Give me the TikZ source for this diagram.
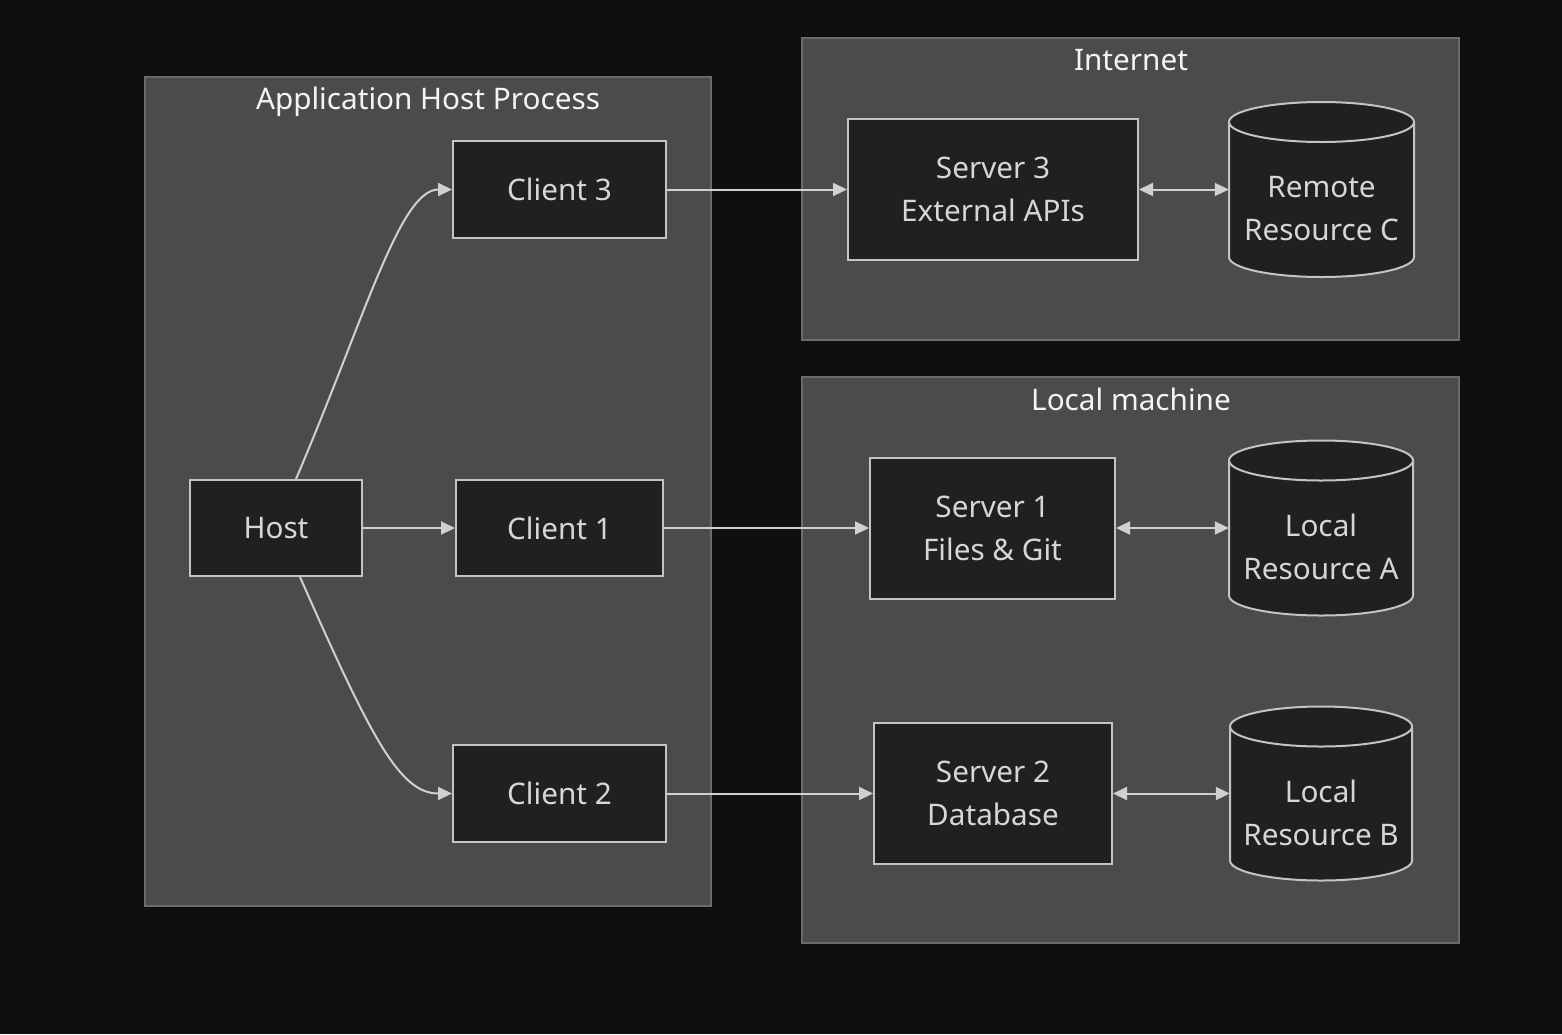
\documentclass[tikz,border=0pt]{standalone}
\usepackage{fontspec}
\setmainfont{Noto Sans}
\usetikzlibrary{arrows.meta,calc}
\definecolor{bgc}{HTML}{0E0F11}
\definecolor{clfill}{HTML}{4A4B4A}
\definecolor{clline}{HTML}{6A6B6A}
\definecolor{ndfill}{HTML}{1F2020}
\definecolor{ndline}{HTML}{C4C4C4}
\definecolor{ndtext}{HTML}{D6D6D6}
\definecolor{ttl}{HTML}{F4F4F4}
\definecolor{edge}{HTML}{D0D0D0}
\begin{document}
\begin{tikzpicture}[x=1pt,y=-1pt,
  cluster/.style={draw=clline,fill=clfill,line width=1.5pt,minimum width=#1},
  title/.style={text=ttl,font=\fontsize{29.7}{34}\selectfont,inner sep=0pt},
  box/.style={draw=ndline,fill=ndfill,line width=2pt,text=ndtext,align=center,
    font=\fontsize{29.7}{43}\selectfont,inner sep=0pt},
  cylbox/.style={draw=none,inner sep=0pt},
  cylshape/.style={draw=ndline,fill=ndfill,line width=2pt},
  cyltext/.style={text=ndtext,align=center,font=\fontsize{29.7}{43}\selectfont,inner sep=0pt},
  arr/.style={draw=edge,line width=2pt,-{Triangle[length=14pt,width=13pt]}},
  barr/.style={draw=edge,line width=2pt,{Triangle[length=14pt,width=13pt]}-{Triangle[length=14pt,width=13pt]}}
]
\useasboundingbox (0,0) rectangle (1562,1034);
\fill[bgc] (0,0) rectangle (1562,1034);

% clusters
\node[cluster=566pt,minimum height=829pt] (app) at (428,491.5) {};
\node[cluster=657pt,minimum height=302pt] (inet) at (1130.5,189) {};
\node[cluster=657pt,minimum height=566pt] (local) at (1130.5,660) {};
\node[title] (tapp) at (428,101.5) {Application Host Process};
\node[title] (tinet) at (1131,60.5) {Internet};
\node[title] (tlocal) at (1131,399.5) {Local machine};

% nodes
\node[box,minimum width=172pt,minimum height=96pt] (host) at (276,528) {Host};
\node[box,minimum width=213pt,minimum height=97pt] (c3) at (559.5,189.5) {Client 3};
\node[box,minimum width=207pt,minimum height=96pt] (c1) at (559.5,528) {Client 1};
\node[box,minimum width=213pt,minimum height=97pt] (c2) at (559.5,793.5) {Client 2};
\node[box,minimum width=290pt,minimum height=141pt] (s3) at (993,189.5) {Server 3\\External APIs};
\node[box,minimum width=245pt,minimum height=141pt] (s1) at (992.5,528) {Server 1\\Files \& Git};
\node[box,minimum width=238pt,minimum height=141pt] (s2) at (993,793.5) {Server 2\\Database};

% cylinders
\newcommand{\mycyl}[6]{% name, cx, cy, width, height, text
  \node[cylbox,minimum width=#4pt,minimum height=#5pt] (#1) at (#2,#3) {};
  \pgfmathsetmacro{\rx}{#4/2}
  \pgfmathsetmacro{\ry}{20}
  \pgfmathsetmacro{\xl}{#2-#4/2}
  \pgfmathsetmacro{\xr}{#2+#4/2}
  \pgfmathsetmacro{\yt}{#3-#5/2+20}
  \pgfmathsetmacro{\yb}{#3+#5/2-20}
  \path[cylshape] (\xl,\yt) -- (\xl,\yb) arc[start angle=180,end angle=0,x radius=\rx,y radius=\ry]
     -- (\xr,\yt) arc[start angle=0,end angle=-180,x radius=\rx,y radius=\ry] -- cycle;
  \draw[cylshape,fill=none] (\xl,\yt) arc[start angle=180,end angle=0,x radius=\rx,y radius=\ry];
  \node[cyltext] (#1t) at ($(#1)+(0,19)$) {#6};
}
\mycyl{rc}{1321.5}{189.5}{185}{175}{Remote\\Resource C}
\mycyl{ra}{1321}{528}{184}{175}{Local\\Resource A}
\mycyl{rb}{1321}{793.5}{182}{174}{Local\\Resource B}

% edges
\draw[arr] (host.east) -- (c1.west);
\draw[arr] ([xshift=20pt]host.north) .. controls (366,315) and (400,189.5) .. (c3.west);
\draw[arr] ([xshift=24pt]host.south) .. controls (372,740) and (400,793.5) .. (c2.west);
\draw[arr] (c3.east) -- (s3.west);
\draw[arr] (c1.east) -- (s1.west);
\draw[arr] (c2.east) -- (s2.west);
\draw[barr] (s3.east) -- (rc.west);
\draw[barr] (s1.east) -- (ra.west);
\draw[barr] (s2.east) -- (rb.west);
\end{tikzpicture}
\end{document}
